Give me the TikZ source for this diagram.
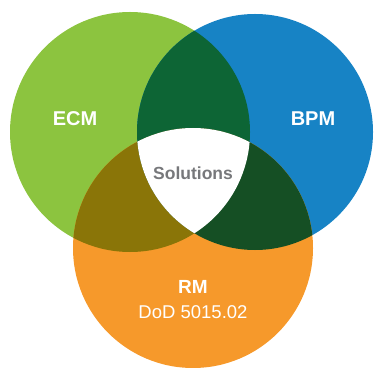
\documentclass[tikz,border=0pt]{standalone}
\usepackage{fontspec}
\setmainfont{Liberation Sans}
\usepackage{tikz}

\definecolor{ecmgreen}{HTML}{8CC43F}
\definecolor{bpmblue}{HTML}{1783C5}
\definecolor{rmorange}{HTML}{F6992B}
\definecolor{ecmbpm}{HTML}{0D6535}
\definecolor{ecmrm}{HTML}{8A7508}
\definecolor{bpmrm}{HTML}{154F24}
\definecolor{soltext}{HTML}{77787B}

\tikzset{
  setlabel/.style={text=white, font=\bfseries\fontsize{20}{24}\selectfont},
  sublabel/.style={text=white, font=\fontsize{18.5}{22}\selectfont},
}

\begin{document}
\begin{tikzpicture}[x=1pt,y=1pt]
				\useasboundingbox (0,0) rectangle (374,367);
				\clip (0,0) rectangle (374,367);
				\coordinate (ecm) at (130,235);
				\coordinate (bpm) at (255,235);
				\coordinate (rm) at (193,119);
				% the three sets
				\fill[ecmgreen] (ecm) circle (120);
				\fill[bpmblue] (bpm) circle (118);
				\fill[rmorange] (rm) circle (120);
				% pairwise overlaps
				\begin{scope}
					\clip (ecm) circle (120);
					\fill[ecmbpm] (bpm) circle (118);
					\fill[ecmrm] (rm) circle (120);
				\end{scope}
				\begin{scope}
					\clip (bpm) circle (118);
					\fill[bpmrm] (rm) circle (120);
				\end{scope}
				% common part
				\begin{scope}
					\clip (ecm) circle (120);
					\clip (bpm) circle (118);
					\fill[white] (rm) circle (120);
				\end{scope}
				\node[setlabel] (ecmlabel) at (75,248) {ECM};
				\node[setlabel] (bpmlabel) at (313,248) {BPM};
				\node[setlabel, text=soltext, font=\bfseries\fontsize{17.5}{21}\selectfont] (sollabel) at (193,194) {Solutions};
				\node[setlabel, font=\bfseries\fontsize{19}{23}\selectfont] (rmlabel) at (193,80) {RM};
				\node[sublabel] (dodlabel) at (193,55) {DoD 5015.02};
			\end{tikzpicture}
\end{document}
